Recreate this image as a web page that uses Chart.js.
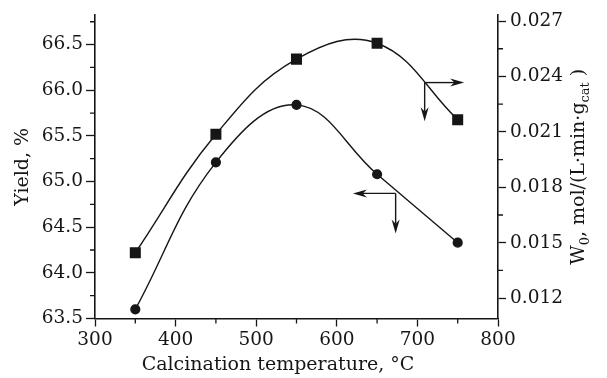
<!DOCTYPE html>
<html>
<head>
<meta charset="utf-8">
<script src="https://cdn.jsdelivr.net/npm/chart.js@4.4.1/dist/chart.umd.min.js"></script>
<style>
    html, body { margin: 0; padding: 0; background: #fff; }
</style>
</head>
<body>
<canvas id="calcination-chart" width="607" height="378"></canvas>
<script>
const temperatures = [350, 450, 550, 650, 750];
const yieldValues = [63.60, 65.21, 65.84, 65.08, 64.33];
const rateValues = [0.01446, 0.02087, 0.02494, 0.0258, 0.02166];

const xTicks = [300, 400, 500, 600, 700, 800];
const xMinorTicks = [350, 450, 550, 650, 750];
const yieldTicks = [63.5, 64.0, 64.5, 65.0, 65.5, 66.0, 66.5];
const yieldMinorTicks = [63.75, 64.25, 64.75, 65.25, 65.75, 66.25, 66.75];
const rateTicks = [0.012, 0.015, 0.018, 0.021, 0.024, 0.027];
const rateMinorTicks = [0.0135, 0.0165, 0.0195, 0.0225, 0.0255];

// arrows telling which axis each curve belongs to (data units)
const yieldArrow = { x: 673, y: 64.87, toX: 620, toY: 64.43 };
const rateArrow = { x: 709, y: 0.02367, toX: 758, toY: 0.02157 };

const INK = '#161616';
const FONT = 'DejaVu Serif';

function setTicks(values) {
    return scale => {
        scale.ticks = values.map(value => ({ value }));
    };
}

function drawArrow(ctx, x0, y0, x1, y1) {
    const angle = Math.atan2(y1 - y0, x1 - x0);
    const head = 14;
    const half = 4;
    ctx.beginPath();
    ctx.moveTo(x0, y0);
    ctx.lineTo(x1 - Math.cos(angle) * head * 0.7, y1 - Math.sin(angle) * head * 0.7);
    ctx.stroke();

    ctx.save();
    ctx.translate(x1, y1);
    ctx.rotate(angle);
    ctx.beginPath();
    ctx.moveTo(0, 0);
    ctx.lineTo(-head, -half);
    ctx.lineTo(-head * 0.7, 0);
    ctx.lineTo(-head, half);
    ctx.closePath();
    ctx.fill();
    ctx.restore();
}

const decorations = {
    id: 'decorations',
    afterDraw(chart) {
        const { ctx, chartArea, scales } = chart;
        const x = scales.x;
        const yLeft = scales.yYield;
        const yRight = scales.yRate;

        ctx.save();
        ctx.strokeStyle = INK;
        ctx.fillStyle = INK;
        ctx.lineWidth = 1.3;

        // minor ticks
        ctx.beginPath();
        xMinorTicks.forEach(v => {
            const px = x.getPixelForValue(v);
            ctx.moveTo(px, chartArea.bottom);
            ctx.lineTo(px, chartArea.bottom + 5);
        });
        yieldMinorTicks.forEach(v => {
            const py = yLeft.getPixelForValue(v);
            ctx.moveTo(chartArea.left, py);
            ctx.lineTo(chartArea.left - 5, py);
        });
        rateMinorTicks.forEach(v => {
            const py = yRight.getPixelForValue(v);
            ctx.moveTo(chartArea.right, py);
            ctx.lineTo(chartArea.right + 5, py);
        });
        ctx.stroke();

        // arrows
        ctx.lineWidth = 1.4;
        const ya = { x: x.getPixelForValue(yieldArrow.x), y: yLeft.getPixelForValue(yieldArrow.y) };
        drawArrow(ctx, ya.x, ya.y, x.getPixelForValue(yieldArrow.toX), ya.y);
        drawArrow(ctx, ya.x, ya.y, ya.x, yLeft.getPixelForValue(yieldArrow.toY));
        const ra = { x: x.getPixelForValue(rateArrow.x), y: yRight.getPixelForValue(rateArrow.y) };
        drawArrow(ctx, ra.x, ra.y, x.getPixelForValue(rateArrow.toX), ra.y);
        drawArrow(ctx, ra.x, ra.y, ra.x, yRight.getPixelForValue(rateArrow.toY));

        // axis titles
        ctx.textBaseline = 'alphabetic';
        ctx.textAlign = 'center';
        ctx.font = `19px "${FONT}"`;
        ctx.fillText('Calcination temperature, °C', chartArea.left + 183, 370);

        ctx.save();
        ctx.translate(28, (chartArea.top + chartArea.bottom) / 2);
        ctx.rotate(-Math.PI / 2);
        ctx.fillText('Yield, %', 0, 0);
        ctx.restore();

        // right title with subscripts
        const parts = [
            { text: 'W', sub: false },
            { text: '0', sub: true },
            { text: ', mol/(L·min·g', sub: false },
            { text: 'cat', sub: true },
            { text: ' )', sub: false }
        ];
        const mainFont = `19px "${FONT}"`;
        const subFont = `13px "${FONT}"`;
        let total = 0;
        parts.forEach(p => {
            ctx.font = p.sub ? subFont : mainFont;
            p.width = ctx.measureText(p.text).width;
            total += p.width;
        });
        ctx.save();
        ctx.translate(584, (chartArea.top + chartArea.bottom) / 2);
        ctx.rotate(-Math.PI / 2);
        ctx.textAlign = 'left';
        let cursor = -total / 2;
        parts.forEach(p => {
            ctx.font = p.sub ? subFont : mainFont;
            ctx.fillText(p.text, cursor, p.sub ? 5 : 0);
            cursor += p.width;
        });
        ctx.restore();

        ctx.restore();
    }
};

const tickFont = { family: FONT, size: 18.5 };

const config = {
    type: 'line',
    data: {
        datasets: [{
            label: 'Yield',
            data: temperatures.map((t, i) => ({ x: t, y: yieldValues[i] })),
            yAxisID: 'yYield',
            borderColor: INK,
            backgroundColor: INK,
            borderWidth: 1.4,
            pointStyle: 'circle',
            pointRadius: 4.4,
            tension: 0.4,
            fill: false
        }, {
            label: 'W0',
            data: temperatures.map((t, i) => ({ x: t, y: rateValues[i] })),
            yAxisID: 'yRate',
            borderColor: INK,
            backgroundColor: INK,
            borderWidth: 1.4,
            pointStyle: 'rect',
            pointRadius: 6.8,
            tension: 0.4,
            fill: false
        }]
    },
    options: {
        responsive: false,
        animation: false,
        layout: {
            padding: { top: 13, left: 0, right: 0, bottom: 0 }
        },
        plugins: {
            legend: { display: false },
            tooltip: { enabled: false }
        },
        scales: {
            x: {
                type: 'linear',
                position: 'bottom',
                min: 300,
                max: 800,
                afterBuildTicks: setTicks(xTicks),
                afterFit: scale => { scale.height = 59.5; },
                grid: { drawOnChartArea: false, tickLength: 8, color: INK, tickWidth: 1.3 },
                border: { color: INK, width: 1.6 },
                ticks: { font: tickFont, color: INK, padding: 3, maxRotation: 0, callback: v => String(v) }
            },
            yYield: {
                type: 'linear',
                position: 'left',
                min: 63.5,
                max: 66.823,
                afterBuildTicks: setTicks(yieldTicks),
                afterFit: scale => { scale.width = 95; },
                grid: { drawOnChartArea: false, tickLength: 9, color: INK, tickWidth: 1.3 },
                border: { color: INK, width: 1.6 },
                ticks: { font: tickFont, color: INK, padding: 3, callback: v => v.toFixed(1) }
            },
            yRate: {
                type: 'linear',
                position: 'right',
                min: 0.010898,
                max: 0.027323,
                afterBuildTicks: setTicks(rateTicks),
                afterFit: scale => { scale.width = 109; },
                grid: { drawOnChartArea: false, tickLength: 8, color: INK, tickWidth: 1.3 },
                border: { color: INK, width: 1.6 },
                ticks: { font: tickFont, color: INK, padding: 4, callback: v => v.toFixed(3) }
            }
        }
    },
    plugins: [decorations]
};

new Chart(document.getElementById('calcination-chart'), config);
</script>
</body>
</html>
